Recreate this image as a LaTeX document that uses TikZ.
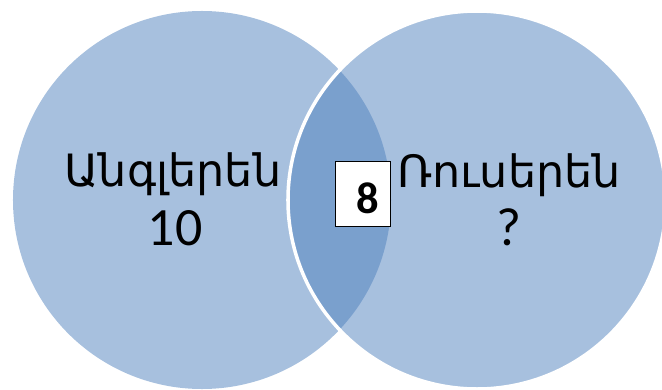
\documentclass[tikz,border=0pt]{standalone}
\usepackage{fontspec}
\setmainfont{Carlito}
\newfontfamily\armfont[Script=Armenian]{DejaVu Sans}
\usepackage{tikz}
\usetikzlibrary{positioning}
\definecolor{setblue}{HTML}{4F81BD}

\begin{document}
\begin{tikzpicture}[
  x=0.03cm, y=-0.03cm,
  setdisk/.style={circle, fill=setblue, fill opacity=0.5, minimum size=11.34cm, inner sep=0pt},
  setname/.style={anchor=base, inner sep=0pt, font=\armfont\fontsize{38}{46}\selectfont},
  setcount/.style={anchor=base, inner sep=0pt, font=\fontsize{46}{50}\selectfont},
  countbox/.style={draw, thick, fill=white, minimum width=1.65cm, minimum height=1.95cm, inner sep=0pt}
]
\useasboundingbox (0,0) rectangle (662,390);
\clip (0,0) rectangle (662,390);

% the two sets
\node[setdisk] (english) at (202,200) {};
\node[setdisk, draw=white, line width=3pt] (russian) at (477,200) {};

% names and counts
\node[setname] (englishname) at (173,186) {Անգլերեն};
\node[setcount] (englishcount) at (175,245) {10};
\node[setname] (russianname) at (509,187) {Ռուսերեն};
\node[setcount] (russiancount) at (509,245) {?};

% common part
\node[countbox] (common) at (362.5,193.5) {};
\node[anchor=base, inner sep=0pt, font=\fontsize{38}{40}\selectfont\bfseries] (commoncount) at (367.5,213) {8};
\end{tikzpicture}
\end{document}
